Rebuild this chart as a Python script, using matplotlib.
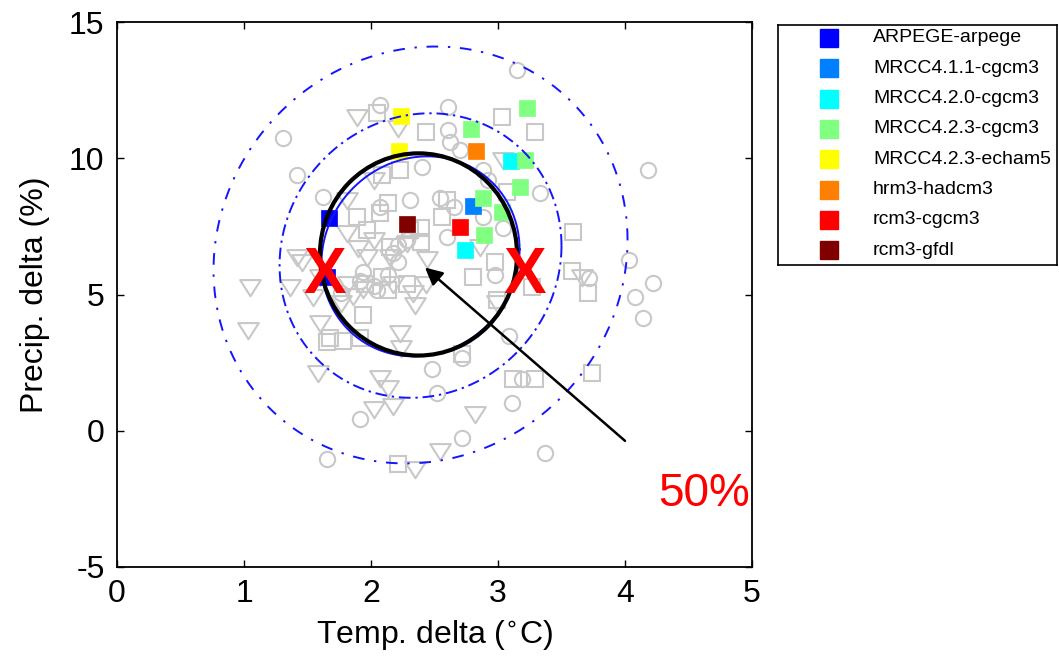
import numpy as np
import matplotlib
matplotlib.use('Agg')
import matplotlib.pyplot as plt
from matplotlib.patches import Ellipse
from matplotlib.path import Path

plt.rcParams['font.family'] = ['Liberation Sans', 'DejaVu Sans']
plt.rcParams['axes.unicode_minus'] = False

# ---------------- data ----------------
circle_x = [2.07, 1.31, 1.42, 1.62, 3.15, 2.61, 2.61, 2.62, 2.70, 2.40, 2.88, 2.92,
            3.33, 2.54, 2.65, 3.04, 2.60, 2.28, 2.21, 4.18, 4.03, 1.91, 1.65, 1.94,
            2.02, 2.13, 2.21, 2.98, 3.09, 2.72, 2.48, 3.19, 2.52, 3.11, 2.72, 3.37,
            3.72, 4.08, 4.22, 4.14, 2.17, 1.91, 2.05, 1.76, 2.07, 2.31, 2.88]
circle_y = [11.95, 10.74, 9.38, 8.57, 13.24, 11.88, 11.03, 10.59, 10.29, 9.67, 9.56, 9.19,
            8.71, 8.53, 8.20, 7.43, 7.10, 6.99, 6.80, 9.56, 6.25, 0.44, -1.03, 5.81,
            5.33, 5.70, 6.18, 5.70, 3.49, 2.68, 2.28, 1.91, 1.40, 1.03, -0.26, -0.81,
            5.59, 4.89, 5.44, 4.15, 6.51, 5.51, 5.15, 5.04, 8.20, 8.46, 7.83]

square_x = [2.05, 3.03, 2.43, 3.29, 2.23, 2.09, 2.13, 1.89, 1.97, 2.60, 2.56, 2.39,
            2.39, 3.59, 3.07, 2.07, 2.15, 2.31, 1.95, 2.09, 2.28, 2.13, 1.94, 1.68,
            1.91, 1.65, 1.78, 2.80, 2.98, 3.27, 2.99, 2.72, 3.12, 3.29, 3.74, 3.58,
            3.71, 2.21]
square_y = [11.65, 11.51, 10.96, 10.96, 9.56, 9.38, 8.35, 7.83, 7.35, 8.46, 7.83, 7.43,
            6.91, 7.28, 8.75, 7.98, 6.73, 7.35, 5.40, 5.63, 5.40, 5.15, 4.23, 3.42,
            3.42, 3.24, 3.31, 5.63, 6.18, 5.26, 4.78, 2.83, 1.91, 1.91, 2.13, 5.88,
            5.07, -1.21]

tri_x = [1.89, 2.21, 2.02, 1.81, 1.81, 2.02, 1.97, 1.42, 3.04, 2.86, 1.05, 1.03,
         1.36, 1.46, 1.60, 1.60, 1.86, 1.58, 2.07, 2.13, 2.02, 2.17, 2.23, 1.94,
         2.44, 2.43, 2.35, 2.99, 2.82, 2.54, 2.35, 3.66, 1.90, 2.15, 2.28, 2.33,
         2.17, 1.82, 1.76, 1.54, 2.24]
tri_y = [11.51, 11.10, 9.19, 8.46, 7.24, 6.99, 6.36, 6.36, 9.93, 6.73, 5.26, 3.68,
         5.26, 6.18, 5.63, 3.97, 4.96, 2.13, 1.95, 1.58, 0.81, 0.92, 3.57, 5.22,
         6.32, 5.40, 4.60, 4.67, 0.63, -0.74, -1.40, 5.63, 6.69, 6.36, 6.88, 5.04,
         5.40, 5.40, 4.67, 4.89, 3.05]

models = ['ARPEGE-arpege', 'MRCC4.1.1-cgcm3', 'MRCC4.2.0-cgcm3', 'MRCC4.2.3-cgcm3',
          'MRCC4.2.3-echam5', 'hrm3-hadcm3', 'rcm3-cgcm3', 'rcm3-gfdl']
model_colors = ['#0000FF', '#0080FF', '#00FFFF', '#80FF80',
                '#FFFF00', '#FF8000', '#FF0000', '#800000']
model_x = [[1.67, 1.65], [2.80], [3.10, 2.74],
           [3.23, 2.79, 3.21, 3.17, 2.88, 3.03, 2.89],
           [2.24, 2.22], [2.83], [2.70], [2.28]]
model_y = [[7.79, 5.64], [8.25], [9.90, 6.62],
           [11.85, 11.09, 9.95, 8.94, 8.55, 8.03, 7.17],
           [11.54, 10.27], [10.26], [7.47], [7.60]]

# probability contours (inner, middle, outer)
ring_cx = [2.39, 2.39, 2.39]
ring_cy = [6.40, 6.43, 6.45]
ring_ax = [0.78, 1.11, 1.63]
ring_by = [3.67, 5.22, 7.65]
ring_phi = [0.07, 0.069, 0.072]

# hand-drawn 50% circle
circ_center = (2.374, 6.47)
circ_w = 1.552
circ_h = 7.42

x_ticks = [0, 1, 2, 3, 4, 5]
y_ticks = [-5, 0, 5, 10, 15]

# ---------------- figure ----------------
W, H = 1059, 665
fig = plt.figure(figsize=(W / 100, H / 100), dpi=100)
ax = fig.add_axes([117 / W, 1 - 567 / H, (752 - 117) / W, (567 - 22) / H])

gray = '#C8C8C8'
ms = 11
tri_marker = Path([(-1, 0.72), (1, 0.72), (0, -0.85), (-1, 0.72)],
                  [Path.MOVETO, Path.LINETO, Path.LINETO, Path.CLOSEPOLY])

ax.plot(circle_x, circle_y, 'o', ms=ms, mfc='none', mec=gray, mew=1.5, zorder=2)
ax.plot(square_x, square_y, 's', ms=ms, mfc='none', mec=gray, mew=1.5, zorder=2)
ax.plot(tri_x, tri_y, marker=tri_marker, ls='none', ms=ms * 1.35, mfc='none',
        mec=gray, mew=1.5, zorder=2)

for xs, ys, c in zip(model_x, model_y, model_colors):
    ax.plot(xs, ys, 's', ms=11.5, mfc=c, mec=c, mew=0.5, zorder=3)

styles = ['-', (0, (6, 2.5, 1.2, 2.5)), (0, (6, 5, 1.2, 5))]
t = np.linspace(0, 2 * np.pi, 500)
for cx, cy, a, b, ph, st in zip(ring_cx, ring_cy, ring_ax, ring_by, ring_phi, styles):
    ax.plot(cx + a * np.cos(t), cy + b * np.sin(t + ph), color='#1414FF',
            lw=1.4, ls=st, zorder=4)

ax.add_patch(Ellipse(circ_center, circ_w, circ_h, fill=False, ec='black',
                     lw=3.0, zorder=5))

for xx in [1.638, 3.213]:
    ax.text(xx, 5.05, 'X', color='#FF0000', fontsize=46, fontweight='bold',
            ha='center', va='baseline', zorder=6)

ax.annotate('', xy=(2.425, 5.99), xytext=(4.0, -0.37),
            arrowprops=dict(arrowstyle='-|>', color='black', lw=1.8,
                            mutation_scale=26, shrinkA=0, shrinkB=0), zorder=6)
ax.text(4.26, -2.76, '50%', color='#FF0000', fontsize=33, ha='left',
        va='baseline', clip_on=False, zorder=6)

ax.set_xlim(0, 5)
ax.set_ylim(-5, 15)
ax.set_xticks(x_ticks)
ax.set_yticks(y_ticks)
ax.tick_params(direction='in', length=5, width=1, top=True, right=True,
               labelsize=23, pad=9)
for s in ax.spines.values():
    s.set_linewidth(1.3)
ax.set_xlabel('Temp. delta ($^{\\circ}$C)', fontsize=23, labelpad=6)
ax.set_ylabel('Precip. delta (%)', fontsize=23, labelpad=14)

# ---------------- legend ----------------
lg = fig.add_axes([778 / W, 1 - 265 / H, (1057 - 778) / W, (265 - 25) / H])
lg.set_xlim(0, 279)
lg.set_ylim(240, 0)
lg.set_xticks([])
lg.set_yticks([])
for s in lg.spines.values():
    s.set_linewidth(1.2)
for i, (name, c) in enumerate(zip(models, model_colors)):
    yy = 13 + 30.3 * i
    lg.plot([51], [yy], 's', ms=13.5, mfc=c, mec=c)
    lg.text(95, yy, name, fontsize=14, va='center', ha='left')

fig.savefig('out.png', dpi=100)
